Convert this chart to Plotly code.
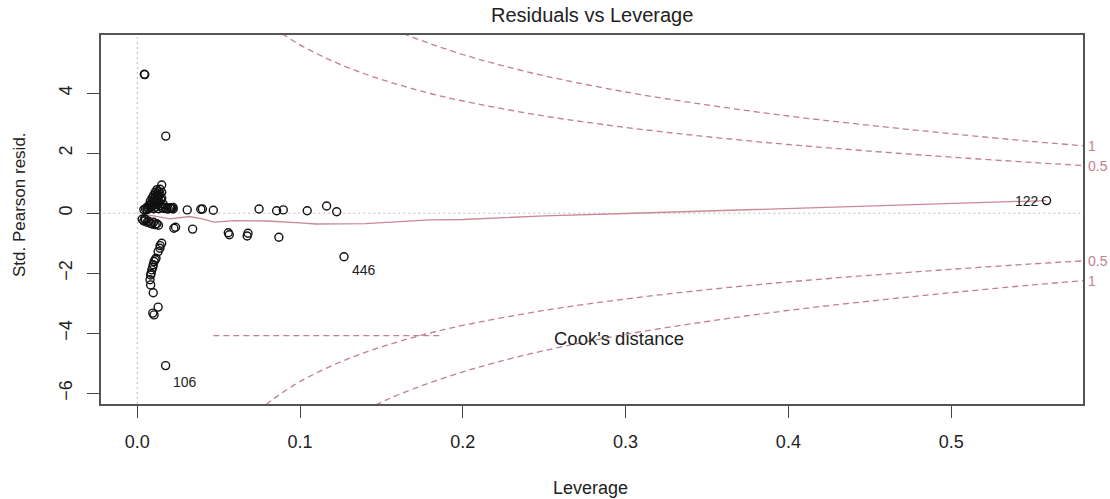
import plotly.graph_objects as go

# ---------------- data ----------------
leverage = [
    0.0043, 0.0046, 0.0175,
    # dense positive cluster
    0.004, 0.005, 0.006, 0.006, 0.007, 0.007, 0.008, 0.008, 0.008, 0.009, 0.009, 0.009,
    0.010, 0.010, 0.010, 0.010, 0.011, 0.011, 0.011, 0.011, 0.012, 0.012, 0.012, 0.012,
    0.013, 0.013, 0.013, 0.013, 0.014, 0.014, 0.014, 0.015, 0.015, 0.015, 0.015, 0.016,
    0.016, 0.017, 0.018, 0.019, 0.020, 0.021, 0.022, 0.0135, 0.0145, 0.0125, 0.0105,
    # right side, near zero
    0.0205, 0.0220, 0.0307, 0.0390, 0.0400, 0.0467, 0.0748, 0.0856, 0.0897, 0.1044,
    0.1163, 0.1225, 0.5586,
    # small negative cluster
    0.003, 0.004, 0.0045, 0.005, 0.006, 0.007, 0.008, 0.009, 0.010, 0.011, 0.012, 0.013,
    # negative, right
    0.0225, 0.0235, 0.0340, 0.0559, 0.0565, 0.0680, 0.0675, 0.0870, 0.1270,
    # descending arc
    0.0150, 0.0140, 0.0139, 0.0128, 0.0115, 0.0110, 0.0103, 0.0098, 0.0095, 0.0089,
    0.0085, 0.0082, 0.0078, 0.0082, 0.0098, 0.0128, 0.0095, 0.0103,
    0.0174,
]
std_pearson_resid = [
    4.63, 4.62, 2.57,
    0.12, 0.15, 0.20, 0.12, 0.25, 0.16, 0.30, 0.18, 0.40, 0.35, 0.22, 0.50,
    0.45, 0.28, 0.60, 0.15, 0.55, 0.38, 0.70, 0.20, 0.65, 0.48, 0.30, 0.78,
    0.72, 0.58, 0.40, 0.15, 0.80, 0.62, 0.25, 0.94, 0.70, 0.50, 0.18, 0.30,
    0.16, 0.20, 0.15, 0.14, 0.18, 0.16, 0.14, 0.35, 0.45, 0.55, 0.40,
    0.17, 0.19, 0.11, 0.13, 0.14, 0.10, 0.14, 0.08, 0.11, 0.08,
    0.24, 0.05, 0.42,
    -0.20, -0.26, -0.18, -0.22, -0.30, -0.27, -0.33, -0.36, -0.30, -0.38, -0.35, -0.40,
    -0.50, -0.47, -0.53, -0.65, -0.72, -0.67, -0.76, -0.80, -1.45,
    -1.00, -1.08, -1.17, -1.28, -1.50, -1.55, -1.61, -1.72, -1.80, -1.89,
    -2.00, -2.06, -2.22, -2.39, -2.65, -3.13, -3.33, -3.39,
    -5.08,
]

# smoother (red line)
smooth_lev = [0.004, 0.01, 0.02, 0.032, 0.04, 0.047, 0.06, 0.08, 0.10, 0.11, 0.14,
              0.18, 0.20, 0.25, 0.30, 0.35, 0.40, 0.45, 0.50, 0.5586]
smooth_res = [-0.05, -0.09, -0.19, -0.11, -0.19, -0.30, -0.25, -0.26, -0.32, -0.36, -0.35,
              -0.22, -0.21, -0.09, -0.01, 0.07, 0.15, 0.23, 0.31, 0.42]

# Cook's distance contours
cook05_lev = [0.07, 0.075, 0.08, 0.085, 0.09, 0.10, 0.12, 0.14, 0.16, 0.18, 0.20,
              0.25, 0.30, 0.35, 0.40, 0.45, 0.50, 0.55, 0.581]
cook05_val = [6.82, 6.57, 6.34, 6.14, 5.95, 5.61, 5.07, 4.64, 4.29, 3.99, 3.74,
              3.24, 2.86, 2.55, 2.29, 2.07, 1.87, 1.69, 1.59]
cook1_lev = [0.13, 0.14, 0.15, 0.16, 0.18, 0.20, 0.22, 0.25, 0.30, 0.35, 0.40,
             0.45, 0.50, 0.55, 0.581]
cook1_val = [6.84, 6.56, 6.30, 6.06, 5.65, 5.29, 4.98, 4.58, 4.04, 3.61, 3.24,
             2.93, 2.65, 2.39, 2.25]
cook_labels = ["0.5", "1"]

# labelled observations
id_labels = ["106", "446", "122"]
id_lev = [0.0174, 0.1270, 0.5586]
id_res = [-5.08, -1.45, 0.42]

x_ticks = [0.0, 0.1, 0.2, 0.3, 0.4, 0.5]
x_ticktext = ["0.0", "0.1", "0.2", "0.3", "0.4", "0.5"]
y_ticks = [4, 2, 0, -2, -4, -6]

# ---------------- styling ----------------
PINK = "#C47E8D"
PINK_LINE = "#CB8895"
FONT = "Liberation Sans, Arial, sans-serif"
TXT = "#222222"
W, H = 1110, 499
ML, MR, MT, MB = 101, 27, 35, 95
XR = [-0.0223, 0.581]
YR = [-6.36, 5.94]

fig = go.Figure()

# reference dotted lines
fig.add_trace(go.Scatter(x=[0, 0], y=[YR[0] - 1, YR[1] + 1], mode="lines",
                         line=dict(color="#BBBBBB", width=1, dash="2px,3px"),
                         hoverinfo="skip", showlegend=False))
fig.add_trace(go.Scatter(x=[XR[0] - 1, XR[1] + 1], y=[0, 0], mode="lines",
                         line=dict(color="#BBBBBB", width=1, dash="2px,3px"),
                         hoverinfo="skip", showlegend=False))

# Cook's contours
for lev, val in [(cook05_lev, cook05_val), (cook1_lev, cook1_val)]:
    fig.add_trace(go.Scatter(x=lev, y=val, mode="lines", line_shape="spline",
                             line=dict(color=PINK, width=1.3, dash="6px,4px"),
                             showlegend=False, hoverinfo="skip"))
    fig.add_trace(go.Scatter(x=lev, y=[-v for v in val], mode="lines", line_shape="spline",
                             line=dict(color=PINK, width=1.3, dash="6px,4px"),
                             showlegend=False, hoverinfo="skip"))

# smoother
fig.add_trace(go.Scatter(x=smooth_lev, y=smooth_res, mode="lines",
                         line=dict(color=PINK_LINE, width=1.3),
                         showlegend=False, hoverinfo="skip"))

# points
fig.add_trace(go.Scatter(x=leverage, y=std_pearson_resid, mode="markers",
                         marker=dict(symbol="circle-open", size=8, color="#111111",
                                     line=dict(width=1.4, color="#111111")),
                         showlegend=False))

annotations = []
# point ID labels
id_shift = [(5, -16, "left"), (6, -13, "left"), (-6, 0, "right")]
for lab, xv, yv, (dx, dy, anc) in zip(id_labels, id_lev, id_res, id_shift):
    annotations.append(dict(x=xv, y=yv, xref="x", yref="y", text=lab, showarrow=False,
                            xanchor=anc, yanchor="middle", xshift=dx, yshift=dy,
                            font=dict(family=FONT, size=14, color=TXT)))

# cook level labels at right margin
for lab, val in zip(cook_labels, [cook05_val[-1], cook1_val[-1]]):
    for sgn in (1, -1):
        annotations.append(dict(x=XR[1], y=sgn * val, xref="x", yref="y", text=lab,
                                showarrow=False, xanchor="left", yanchor="middle",
                                xshift=3, font=dict(family=FONT, size=14, color=PINK)))

# legend: Cook's distance
LEG_X0, LEG_X1, LEG_Y = 0.0467, 0.186, -4.08
fig.add_trace(go.Scatter(x=[LEG_X0, LEG_X1], y=[LEG_Y, LEG_Y], mode="lines",
                         line=dict(color=PINK, width=1.3, dash="6px,4px"),
                         showlegend=False, hoverinfo="skip"))
annotations.append(dict(x=0.2545, y=-4.19, xref="x", yref="y", text="Cook's distance",
                        showarrow=False, xanchor="left", yanchor="middle",
                        font=dict(family=FONT, size=18.5, color=TXT)))

PW = W - ML - MR
PH = H - MT - MB
def px(x):
    return (x - ML) / PW
def py(y):
    return (H - MB - y) / PH

# title and axis titles
annotations.append(dict(x=px(592), y=py(15), xref="paper", yref="paper",
                        text="Residuals vs Leverage", showarrow=False,
                        xanchor="center", yanchor="middle",
                        font=dict(family=FONT, size=20, color=TXT)))
annotations.append(dict(x=px(590), y=py(488), xref="paper", yref="paper",
                        text="Leverage", showarrow=False,
                        xanchor="center", yanchor="middle",
                        font=dict(family=FONT, size=18, color=TXT)))
annotations.append(dict(x=px(20), y=py(205), xref="paper", yref="paper",
                        text="Std. Pearson resid.", showarrow=False, textangle=-90,
                        xanchor="center", yanchor="middle",
                        font=dict(family=FONT, size=17, color=TXT)))

axis_common = dict(showgrid=False, zeroline=False, showline=True, mirror=True,
                   linecolor="#555555", linewidth=1.5, ticks="outside", ticklen=12,
                   tickwidth=1.3, tickcolor="#444444",
                   tickfont=dict(family=FONT, size=18, color=TXT))

fig.update_layout(
    width=W, height=H,
    margin=dict(l=ML, r=MR, t=MT, b=MB),
    paper_bgcolor="white", plot_bgcolor="white",
    xaxis=dict(range=XR, tickvals=x_ticks, ticktext=x_ticktext,
               ticklabelstandoff=9, **axis_common),
    yaxis=dict(range=YR, tickvals=y_ticks, tickangle=-90,
               ticklabelstandoff=8, **axis_common),
    annotations=annotations,
)

fig.write_html("out.html")
